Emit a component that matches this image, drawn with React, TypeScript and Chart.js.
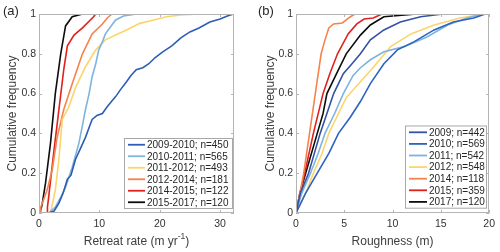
import React, { useEffect, useRef } from "react";
import { Chart, registerables } from "chart.js";

Chart.register(...registerables);

const FONT = "'Liberation Sans', Arial, Helvetica, sans-serif";

// ---------- shared ----------
const yTickValues = [0, 0.2, 0.4, 0.6, 0.8, 1];

// ---------- panel (a): retreat rate ----------
const retreatTickValues = [0, 10, 20, 30];
const retreatLabels = [
  "2009-2010; n=450",
  "2010-2011; n=565",
  "2011-2012; n=493",
  "2012-2014; n=181",
  "2014-2015; n=122",
  "2015-2017; n=120",
];
const retreat0910: [number, number][] = [
  [1.6, 0], [2.5, 0.01], [3.3, 0.05], [4.0, 0.1], [4.7, 0.17], [5.3, 0.19], [6.05, 0.27],
  [6.8, 0.32], [7.7, 0.38], [8.3, 0.43], [8.8, 0.47], [9.6, 0.49], [10.5, 0.5], [11.2, 0.53],
  [12.0, 0.56], [12.7, 0.585], [13.5, 0.62], [14.5, 0.66], [15.2, 0.69], [16.1, 0.72],
  [17.2, 0.73], [18.2, 0.75], [19.2, 0.78], [20.5, 0.81], [22.0, 0.84], [23.5, 0.88],
  [25.0, 0.91], [26.5, 0.93], [28.3, 0.96], [30.0, 0.975], [31.2, 0.99], [32.2, 1],
];
const retreat1011: [number, number][] = [
  [1.6, 0], [2.7, 0.03], [3.6, 0.08], [4.4, 0.13], [5.5, 0.23], [6.6, 0.35], [7.2, 0.44],
  [7.7, 0.52], [8.3, 0.6], [8.8, 0.685], [9.4, 0.75], [9.9, 0.82], [10.5, 0.86], [11.0, 0.9],
  [11.7, 0.93], [12.7, 0.97], [14.0, 0.99], [16.1, 1],
];
const retreat1112: [number, number][] = [
  [1.9, 0], [2.7, 0.115], [3.3, 0.27], [3.85, 0.47], [4.9, 0.53], [6.05, 0.63], [7.7, 0.735],
  [9.4, 0.82], [11.0, 0.87], [12.7, 0.894], [14.5, 0.92], [16.7, 0.953], [19.0, 0.97],
  [21.1, 0.986], [23.5, 0.995], [26.6, 1],
];
const retreat1214: [number, number][] = [
  [0.2, 0], [0.3, 0.03], [1.35, 0.115], [2.2, 0.22], [3.0, 0.38], [4.1, 0.52], [5.5, 0.65],
  [7.2, 0.8], [8.8, 0.9], [10.5, 0.95], [11.3, 0.98], [12.1, 1],
];
const retreat1415: [number, number][] = [
  [1.35, 0], [1.4, 0.03], [1.6, 0.08], [2.5, 0.32], [3.3, 0.52], [4.1, 0.72], [4.7, 0.84],
  [5.8, 0.894], [7.2, 0.93], [8.5, 0.97], [9.0, 0.985], [9.4, 1],
];
const retreat1517: [number, number][] = [
  [0.15, 0], [0.5, 0.04], [1.08, 0.15], [1.9, 0.35], [2.7, 0.6], [3.6, 0.8], [4.4, 0.94],
  [5.5, 0.986], [7.2, 1],
];
const retreatSeries = [retreat0910, retreat1011, retreat1112, retreat1214, retreat1415, retreat1517];
const retreatColors = ["#2f5db5", "#7db4e0", "#fdd46c", "#f5834c", "#e1211d", "#0d0d0d"];

// ---------- panel (b): roughness ----------
const roughTickValues = [0, 5, 10, 15, 20];
const roughLabels = [
  "2009; n=442",
  "2010; n=569",
  "2011; n=542",
  "2012; n=548",
  "2014; n=118",
  "2015; n=359",
  "2017; n=120",
];
const rough2009: [number, number][] = [
  [0, 0], [0.45, 0.1], [1.3, 0.2], [2.5, 0.4], [3.2, 0.5], [3.9, 0.6], [4.9, 0.7], [5.8, 0.75],
  [6.67, 0.8], [7.7, 0.87], [9.1, 0.92], [10.8, 0.96], [12.9, 0.986], [15.2, 1],
];
const rough2010: [number, number][] = [
  [0, 0], [1.0, 0.1], [2.2, 0.2], [3.4, 0.3], [4.4, 0.4], [5.6, 0.48], [6.67, 0.56], [7.7, 0.65],
  [9.1, 0.75], [10.5, 0.82], [12.2, 0.86], [14.3, 0.92], [16.3, 0.96], [18.4, 0.98], [19.6, 1],
];
const rough2011: [number, number][] = [
  [0, 0], [0.6, 0.1], [1.5, 0.2], [2.3, 0.3], [3.0, 0.4], [4.0, 0.5], [4.9, 0.6], [5.9, 0.69],
  [6.67, 0.73], [7.7, 0.77], [9.1, 0.81], [11.2, 0.836], [13.6, 0.886], [15.7, 0.945],
  [17.7, 0.98], [19.3, 1],
];
const rough2012: [number, number][] = [
  [0, 0], [1.0, 0.1], [1.8, 0.2], [2.7, 0.3], [3.4, 0.4], [4.4, 0.5], [5.2, 0.58], [6.67, 0.66],
  [8.05, 0.735], [9.8, 0.836], [11.9, 0.9], [14.3, 0.945], [17.0, 0.98], [19.5, 1],
];
const rough2014: [number, number][] = [
  [0, 0], [0.8, 0.2], [1.4, 0.4], [2.0, 0.6], [2.6, 0.8], [3.0, 0.87], [3.4, 0.93], [3.9, 0.95],
  [4.8, 0.955], [5.6, 0.985], [6.1, 1],
];
const rough2015: [number, number][] = [
  [0, 0], [0.9, 0.2], [1.8, 0.4], [2.8, 0.6], [3.5, 0.7], [4.3, 0.8], [5.4, 0.9], [6.3, 0.95],
  [7.05, 0.975], [8.0, 0.98], [8.9, 1],
];
const rough2017: [number, number][] = [
  [0, 0], [0.4, 0.1], [1.0, 0.2], [2.2, 0.4], [2.8, 0.5], [3.2, 0.6], [4.2, 0.7], [5.2, 0.8],
  [6.67, 0.894], [7.7, 0.945], [9.1, 0.986], [12.5, 1],
];
const roughSeries = [rough2009, rough2010, rough2011, rough2012, rough2014, rough2015, rough2017];
const roughColors = ["#3553a3", "#2c63c2", "#7db4e0", "#fdd46c", "#f5834c", "#e1211d", "#0d0d0d"];

type PanelCfg = {
  letter: string;
  xMax: number;
  xTicks: number[];
  xTitle: string;
  xSup: string;
  xTitleTail: string;
  labels: string[];
  series: [number, number][][];
  colors: string[];
  yAxisWidth: number;
  padRight: number;
  yTitleOffset: number;
  letterX: number;
  legend: { left: number; top: number; right: number; rowH: number; lineLen: number };
};

function makeChart(canvas: HTMLCanvasElement, cfg: PanelCfg) {
  const frame = {
    id: "frameLegend",
    afterDatasetsDraw(chart: any) {
      const ctx = chart.ctx as CanvasRenderingContext2D;
      const { left, right, top, bottom } = chart.chartArea;
      const xs = chart.scales.x;
      const ys = chart.scales.y;
      ctx.save();
      ctx.strokeStyle = "#b4b4b4";
      ctx.lineWidth = 1;
      ctx.strokeRect(Math.round(left) + 0.5, Math.round(top) + 0.5, Math.round(right - left) - 1, Math.round(bottom - top) - 1);
      ctx.beginPath();
      for (const v of cfg.xTicks) {
        const px = Math.round(xs.getPixelForValue(v)) + 0.5;
        ctx.moveTo(px, bottom);
        ctx.lineTo(px, bottom - 3);
        ctx.moveTo(px, top);
        ctx.lineTo(px, top + 3);
      }
      for (const v of yTickValues) {
        const py = Math.round(ys.getPixelForValue(v)) + 0.5;
        ctx.moveTo(left, py);
        ctx.lineTo(left + 3, py);
        ctx.moveTo(right, py);
        ctx.lineTo(right - 3, py);
      }
      ctx.stroke();

      // legend
      const lg = cfg.legend;
      const n = cfg.labels.length;
      const boxBottom = lg.top + n * lg.rowH + 2;
      ctx.fillStyle = "#ffffff";
      ctx.fillRect(lg.left, lg.top, lg.right - lg.left, boxBottom - lg.top);
      ctx.strokeStyle = "#a8a8a8";
      ctx.strokeRect(lg.left + 0.5, lg.top + 0.5, lg.right - lg.left - 1, boxBottom - lg.top - 1);
      ctx.font = `10px ${FONT}`;
      ctx.textBaseline = "middle";
      ctx.textAlign = "left";
      for (let i = 0; i < n; i++) {
        const cy = lg.top + 1 + lg.rowH * (i + 0.5);
        ctx.strokeStyle = cfg.colors[i];
        ctx.lineWidth = 1.8;
        ctx.beginPath();
        ctx.moveTo(lg.left + 4, cy);
        ctx.lineTo(lg.left + 4 + lg.lineLen, cy);
        ctx.stroke();
        ctx.fillStyle = "#262626";
        ctx.fillText(cfg.labels[i], lg.left + 6 + lg.lineLen, cy + 0.5);
      }

      // panel letter
      ctx.font = `13px ${FONT}`;
      ctx.fillStyle = "#262626";
      ctx.textBaseline = "middle";
      ctx.fillText(cfg.letter, cfg.letterX, 11);

      // x title (with optional superscript)
      const cx = (left + right) / 2;
      const ty = 241.5;
      ctx.fillStyle = "#404040";
      ctx.font = `12px ${FONT}`;
      const w1 = ctx.measureText(cfg.xTitle).width;
      ctx.font = `8.5px ${FONT}`;
      const w2 = cfg.xSup ? ctx.measureText(cfg.xSup).width : 0;
      ctx.font = `12px ${FONT}`;
      const w3 = cfg.xTitleTail ? ctx.measureText(cfg.xTitleTail).width : 0;
      let x0 = cx - (w1 + w2 + w3) / 2;
      ctx.textAlign = "left";
      ctx.fillText(cfg.xTitle, x0, ty);
      x0 += w1;
      if (cfg.xSup) {
        ctx.font = `8.5px ${FONT}`;
        ctx.fillText(cfg.xSup, x0, ty - 4.5);
        x0 += w2;
      }
      if (cfg.xTitleTail) {
        ctx.font = `12px ${FONT}`;
        ctx.fillText(cfg.xTitleTail, x0, ty);
      }
      ctx.restore();
    },
  };

  return new Chart(canvas, {
    type: "line",
    data: {
      datasets: cfg.series.map((s, i) => ({
        label: cfg.labels[i],
        data: s.map(([x, y]) => ({ x, y })),
        borderColor: cfg.colors[i],
        backgroundColor: cfg.colors[i],
        borderWidth: 1.6,
        pointRadius: 0,
        tension: 0,
        fill: false,
      })),
    },
    options: {
      responsive: false,
      animation: false,
      events: [],
      layout: { padding: { left: 0, top: 14, right: cfg.padRight, bottom: 0 } },
      plugins: { legend: { display: false }, tooltip: { enabled: false }, title: { display: false } },
      scales: {
        x: {
          type: "linear",
          min: 0,
          max: cfg.xMax,
          afterFit: (s: any) => {
            s.height = 39;
          },
          afterBuildTicks: (s: any) => {
            s.ticks = cfg.xTicks.map((v) => ({ value: v }));
          },
          grid: { display: false, drawTicks: false },
          border: { display: false },
          ticks: {
            padding: 5,
            color: "#333333",
            font: { family: FONT, size: 10.5 },
            maxRotation: 0,
            autoSkip: false,
          },
        },
        y: {
          type: "linear",
          min: 0,
          max: 1,
          afterFit: (s: any) => {
            s.width = cfg.yAxisWidth;
          },
          afterBuildTicks: (s: any) => {
            s.ticks = yTickValues.map((v) => ({ value: v }));
          },
          grid: { display: false, drawTicks: false },
          border: { display: false },
          ticks: {
            padding: 3,
            color: "#333333",
            font: { family: FONT, size: 10.5 },
            callback: (v: any) => String(Number(Number(v).toFixed(1))),
          },
          title: {
            display: true,
            text: "Cumulative frequency",
            color: "#404040",
            font: { family: FONT, size: 12 },
            padding: { top: cfg.yTitleOffset, bottom: 0 },
          },
        },
      },
    },
    plugins: [frame],
  } as any);
}

const panelA: PanelCfg = {
  letter: "(a)",
  xMax: 32.3,
  xTicks: retreatTickValues,
  xTitle: "Retreat rate (m yr",
  xSup: "-1",
  xTitleTail: ")",
  labels: retreatLabels,
  series: retreatSeries,
  colors: retreatColors,
  yAxisWidth: 39,
  padRight: 16,
  yTitleOffset: 5,
  letterX: 3,
  legend: { left: 124, top: 138, right: 233, rowH: 11.5, lineLen: 17 },
};

const panelB: PanelCfg = {
  letter: "(b)",
  xMax: 20,
  xTicks: roughTickValues,
  xTitle: "Roughness (m)",
  xSup: "",
  xTitleTail: "",
  labels: roughLabels,
  series: roughSeries,
  colors: roughColors,
  yAxisWidth: 46,
  padRight: 10,
  yTitleOffset: 13,
  letterX: 8,
  legend: { left: 155, top: 125.5, right: 237, rowH: 11.6, lineLen: 18 },
};

function Panel({ cfg }: { cfg: PanelCfg }) {
  const ref = useRef<HTMLCanvasElement | null>(null);
  useEffect(() => {
    if (!ref.current) return;
    const chart = makeChart(ref.current, cfg);
    return () => chart.destroy();
  }, [cfg]);
  return <canvas ref={ref} width={250} height={252} style={{ width: 250, height: 252, display: "block" }} />;
}

export default function App() {
  return (
    <div style={{ position: "absolute", left: 0, top: 0, width: 500, height: 252, display: "flex", background: "#fff" }}>
      <Panel cfg={panelA} />
      <Panel cfg={panelB} />
    </div>
  );
}
